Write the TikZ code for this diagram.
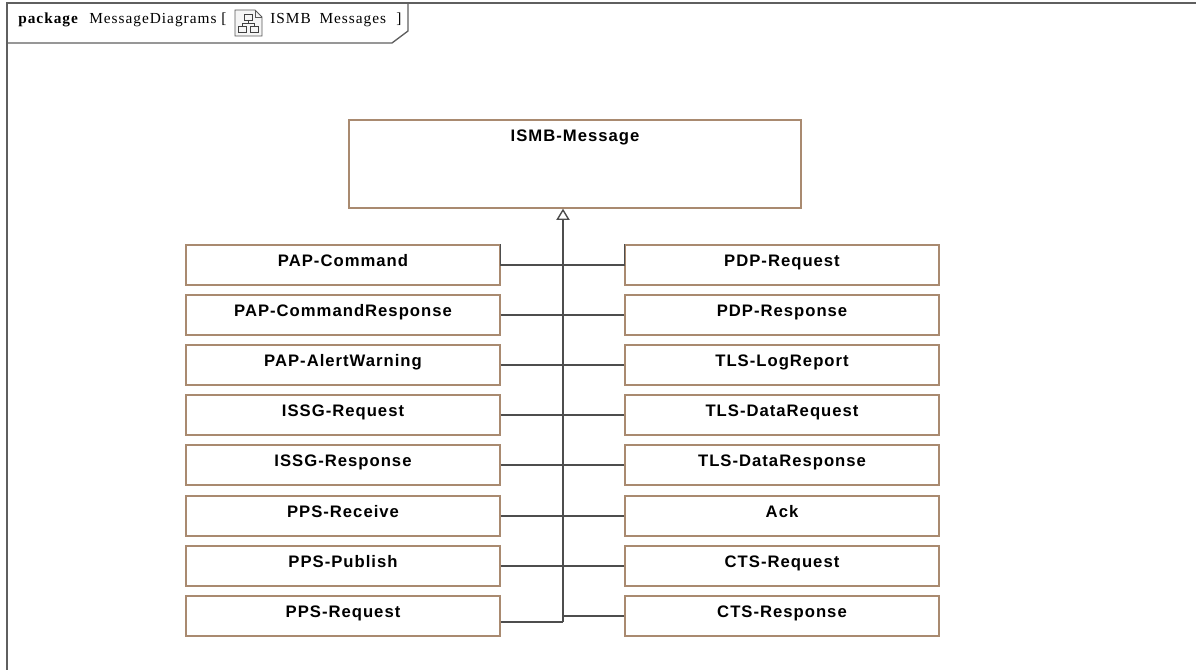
\documentclass[tikz,border=0pt]{standalone}
\usepackage{fontspec}
\setmainfont{Liberation Sans}
\newfontfamily\boxfont[LetterSpace=6]{Liberation Sans}
\newfontfamily\titlefont[LetterSpace=6.5]{Liberation Serif}
\usetikzlibrary{arrows.meta}
\definecolor{boxline}{HTML}{A98A70}
\definecolor{conn}{HTML}{4D4D4D}
\definecolor{frameline}{HTML}{5F5F5F}
\tikzset{
  msg/.style={draw=boxline,line width=1pt,fill=white,minimum width=235.5pt,inner xsep=0pt,inner ysep=0pt,
    text height=15.9pt,text depth=14.1pt,font=\boxfont\fontsize{12.5}{14}\selectfont\bfseries},
  mainmsg/.style={msg,minimum width=339pt,text height=16.3pt,text depth=49.7pt},
  link/.style={draw=conn,line width=1pt},
  trunkline/.style={draw=conn,line width=1.2pt,-{Triangle[open,fill=white,width=10pt,length=8.5pt,line width=1.05pt]}},
  frameedge/.style={draw=frameline,line width=1pt},
  ttl/.style={font=\titlefont\fontsize{11.5}{13}\selectfont,inner sep=0pt,anchor=base west,text=black},
  icon/.style={draw=gray!70!black,line width=0.6pt}
}
\begin{document}
\begin{tikzpicture}[x=0.75pt,y=-0.75pt]
\useasboundingbox (0,0) rectangle (1196,670);
% frame
\coordinate (ftl) at (7,3);
\coordinate (ftr) at (1196,3);
\coordinate (fbl) at (7,670);
\coordinate (tabtr) at (408,3);
\coordinate (tabn1) at (408,31);
\coordinate (tabn2) at (392,43);
\coordinate (tabl) at (7,43);
\draw[frameedge] (fbl) -- (ftl) -- (ftr);
\draw[frameedge] (tabtr) -- (tabn1) -- (tabn2) -- (tabl);
% title
\node[ttl,font=\titlefont\fontsize{11.5}{13}\selectfont\bfseries] (tkw) at (18,24) {package};
\node[ttl] (tname) at (89,24) {MessageDiagrams [};
\node[ttl] (tdiag) at (270,24) {ISMB\hspace{3pt} Messages};
\node[ttl] (tclose) at (396,24) {]};
% icon
\draw[icon,fill=gray!8] (235,10) -- (255,10) -- (262,17) -- (262,36) -- (235,36) -- cycle;
\draw[icon] (255,10) -- (255,17) -- (262,17);
\draw[draw=black!75,line width=0.7pt] (244,14) rectangle (252,20) (238,26) rectangle (246,32) (250,26) rectangle (258,32)
  (248,20) -- (248,23) (242,26) -- (242,23) -- (254,23) -- (254,26);
% main
\node[mainmsg] (main) at (575,164) {ISMB-Message};
% left column
\node[msg] (l1) at (343,265) {PAP-Command};
\node[msg] (l2) at (343,315) {PAP-CommandResponse};
\node[msg] (l3) at (343,365) {PAP-AlertWarning};
\node[msg] (l4) at (343,415) {ISSG-Request};
\node[msg] (l5) at (343,465) {ISSG-Response};
\node[msg] (l6) at (343,516) {PPS-Receive};
\node[msg] (l7) at (343,566) {PPS-Publish};
\node[msg] (l8) at (343,616) {PPS-Request};
% right column
\node[msg] (r1) at (782,265) {PDP-Request};
\node[msg] (r2) at (782,315) {PDP-Response};
\node[msg] (r3) at (782,365) {TLS-LogReport};
\node[msg] (r4) at (782,415) {TLS-DataRequest};
\node[msg] (r5) at (782,465) {TLS-DataResponse};
\node[msg] (r6) at (782,516) {Ack};
\node[msg] (r7) at (782,566) {CTS-Request};
\node[msg] (r8) at (782,616) {CTS-Response};
% trunk
\coordinate (tb) at (563,621.7);
\draw[trunkline] (tb) -- (tb |- main.south);
\draw[link,line width=1.3pt] ([yshift=-5.7*0.75pt]l8.east) -- (tb);
\draw[link] (l1.north east) -- (l1.east) -- (l1.east -| tb);
\draw[link] (r1.north west) -- (r1.west) -- (r1.west -| tb);
\foreach \n in {2,...,7}{
  \draw[link] (l\n.east) -- (l\n.east -| tb);
}
\foreach \n in {2,...,8}{
  \draw[link] (r\n.west) -- (r\n.west -| tb);
}
\end{tikzpicture}
\end{document}
